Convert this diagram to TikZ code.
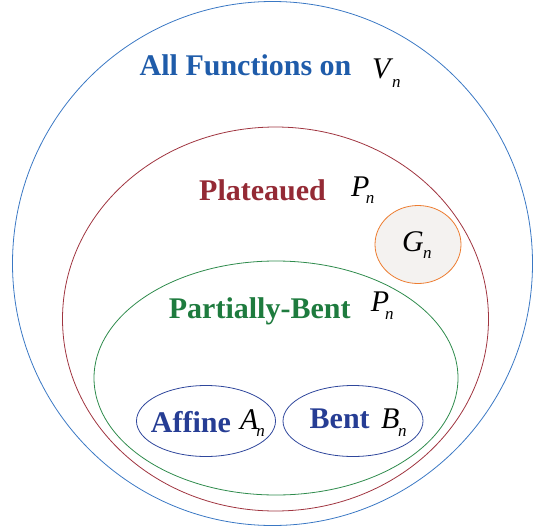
\documentclass[tikz,border=0pt]{standalone}
\usepackage{fontspec}
\setmainfont{Liberation Serif}
\definecolor{cblueline}{HTML}{3A78C4}
\definecolor{cbluetext}{HTML}{1F5CAA}
\definecolor{credline}{HTML}{A03540}
\definecolor{credtext}{HTML}{942A35}
\definecolor{cgreenline}{HTML}{2E8B4C}
\definecolor{cgreentext}{HTML}{1E7B3E}
\definecolor{corange}{HTML}{ED7D31}
\definecolor{cgfill}{HTML}{F4F2F0}
\definecolor{cnavyline}{HTML}{2F479C}
\definecolor{cnavytext}{HTML}{263D94}
\newcommand\setlbl[3]{\textit{#1}\kern#2\raisebox{-#3}{\fontsize{17}{17}\selectfont\itshape n}}
\begin{document}
\begin{tikzpicture}[x=1pt,y=-1pt,
  setline/.style={line width=0.8pt},
  title/.style={font=\fontsize{30}{30}\selectfont\bfseries, anchor=base west, inner sep=0pt},
  symb/.style={font=\fontsize{30}{30}\selectfont, anchor=base west, inner sep=0pt}]
\useasboundingbox (0,0) rectangle (533,525);
\clip (0,0) rectangle (533,525);
% sets
\draw[setline, cblueline] (272.5,263.5) ellipse [x radius=260, y radius=262];
\draw[setline, credline] (275.5,319) ellipse [x radius=213, y radius=192];
\draw[setline, cgreenline] (276,378) ellipse [x radius=182, y radius=117];
\draw[setline, corange, fill=cgfill] (418,244.5) ellipse [x radius=43, y radius=39];
\draw[setline, cnavyline] (206,421) ellipse [x radius=69.5, y radius=35.5];
\draw[setline, cnavyline] (353,421) ellipse [x radius=70, y radius=35.5];
% labels
\node[title, text=cbluetext] (tall) at (139.5,75.5) {All Functions on};
\node[symb] (sv) at (372,78) {\setlbl{V}{-1.3pt}{9pt}};
\node[title, text=credtext] (tplat) at (199,200.7) {Plateaued};
\node[symb] (sp) at (351,196.6) {\setlbl{P}{-3.7pt}{6.5pt}};
\node[title, text=cgreentext] (tpart) at (168.7,318) {Partially-Bent};
\node[symb] (spb) at (370.7,311) {\setlbl{P}{-4pt}{8.7pt}};
\node[symb] (sg) at (402,251) {\setlbl{G}{-0.7pt}{7.5pt}};
\node[title, text=cnavytext] (taff) at (150.7,432.6) {Affine};
\node[symb] (sa) at (240,429) {\setlbl{A}{-2.3pt}{7pt}};
\node[title, text=cnavytext] (tbent) at (309.5,428.6) {Bent};
\node[symb] (sb) at (381,428) {\setlbl{B}{-1.3pt}{8pt}};
\end{tikzpicture}
\end{document}
